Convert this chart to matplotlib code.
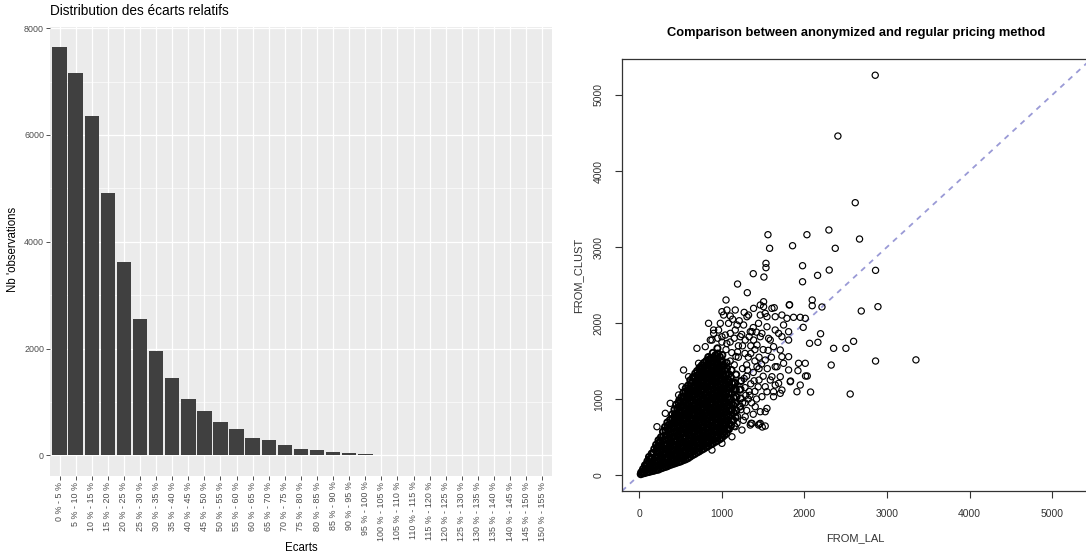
import matplotlib.pyplot as plt
import numpy as np

plt.rcParams['font.family'] = ['Liberation Sans', 'DejaVu Sans']

# ---- left panel: distribution of relative gaps ----
ecart_labels = ['%d %% - %d %%' % (i, i + 5) for i in range(0, 155, 5)]
nb_obs = [7640, 7170, 6360, 4910, 3620, 2560, 1960, 1440, 1050, 830,
          630, 486, 330, 280, 187, 125, 93, 69, 50, 31,
          15, 12, 6, 5, 4, 4, 3, 2, 2, 0, 0]
y_ticks_left = [0, 2000, 4000, 6000, 8000]

# ---- right panel: FROM_LAL vs FROM_CLUST ----
# dense core of the cloud
core_pts = [
    (18, 12), (24, 36),
    (66, 27), (74, 78), (69, 128),
    (121, 42), (129, 97), (124, 152), (131, 214), (118, 238),
    (176, 57), (184, 112), (179, 172), (186, 228), (174, 291), (182, 343),
    (231, 72), (239, 127), (228, 188), (236, 243), (242, 307), (230, 362), (237, 424), (233, 458),
    (286, 97), (294, 152), (281, 218), (292, 273), (288, 337), (296, 392), (283, 457), (291, 512), (287, 572),
    (341, 117), (349, 168), (337, 232), (352, 288), (343, 353), (339, 408), (348, 472), (336, 528),
    (351, 592), (344, 648), (340, 692),
    (396, 142), (404, 198), (393, 262), (407, 318), (399, 383), (391, 437), (405, 503), (397, 558),
    (409, 622), (394, 678), (402, 742), (398, 797),
    (451, 162), (459, 213), (448, 277), (462, 333), (454, 398), (446, 452), (458, 517), (450, 573),
    (463, 638), (449, 692), (457, 758), (452, 812), (460, 877), (447, 927),
    (506, 182), (514, 238), (503, 302), (517, 358), (509, 423), (501, 477), (513, 543), (505, 598),
    (518, 662), (502, 718), (511, 783), (507, 838), (515, 902), (500, 957), (512, 1027),
    (561, 207), (569, 258), (558, 322), (572, 378), (564, 443), (556, 497), (568, 563), (560, 618),
    (573, 682), (557, 738), (566, 803), (562, 857), (570, 923), (555, 978), (567, 1043), (559, 1097), (563, 1142),
    (616, 242), (624, 298), (613, 362), (627, 418), (619, 483), (611, 537), (623, 603), (615, 658),
    (628, 722), (612, 778), (621, 843), (617, 897), (625, 963), (610, 1018), (622, 1083), (614, 1137),
    (626, 1203), (618, 1247),
    (671, 277), (679, 328), (668, 392), (682, 448), (674, 513), (666, 567), (678, 633), (670, 688),
    (683, 752), (667, 808), (676, 873), (672, 927), (680, 993), (665, 1048), (677, 1113), (669, 1167),
    (681, 1233), (673, 1287), (678, 1337),
    (726, 312), (734, 368), (723, 432), (737, 488), (729, 553), (721, 607), (733, 673), (725, 728),
    (738, 792), (722, 848), (731, 913), (727, 967), (735, 1033), (720, 1088), (732, 1153), (724, 1207),
    (736, 1273), (728, 1327), (733, 1392), (730, 1412),
    (781, 347), (789, 398), (778, 462), (792, 518), (784, 583), (776, 637), (788, 703), (780, 758),
    (793, 822), (777, 878), (786, 943), (782, 997), (790, 1063), (775, 1118), (787, 1183), (779, 1237),
    (791, 1303), (783, 1357), (788, 1423), (785, 1477),
    (836, 382), (844, 438), (833, 502), (847, 558), (839, 623), (831, 677), (843, 743), (835, 798),
    (848, 862), (832, 918), (841, 983), (837, 1037), (845, 1103), (830, 1158), (842, 1223), (834, 1277),
    (846, 1343), (838, 1397), (843, 1463), (840, 1517), (836, 1552),
    (891, 417), (899, 468), (888, 532), (902, 588), (894, 653), (886, 707), (898, 773), (890, 828),
    (903, 892), (887, 948), (896, 1013), (892, 1067), (900, 1133), (885, 1188), (897, 1253), (889, 1307),
    (901, 1373), (893, 1427), (898, 1493), (895, 1547), (891, 1607),
    (946, 452), (954, 508), (943, 572), (957, 628), (949, 693), (941, 747), (953, 813), (945, 868),
    (958, 932), (942, 988), (951, 1053), (947, 1107), (955, 1173), (940, 1228), (952, 1293), (944, 1347),
    (956, 1413), (948, 1468), (953, 1533), (950, 1598), (946, 1667),
    (1001, 492), (1009, 543), (998, 607), (1012, 663), (1004, 728), (996, 782), (1008, 848), (1000, 903),
    (1013, 967), (997, 1023), (1006, 1088), (1002, 1142), (1010, 1208), (995, 1263), (1007, 1328),
    (999, 1382), (1011, 1448), (1003, 1502), (1005, 1578),
    (1056, 547), (1064, 598), (1053, 662), (1067, 718), (1059, 783), (1051, 837), (1063, 903), (1055, 958),
    (1068, 1022), (1052, 1078), (1061, 1143), (1057, 1197), (1065, 1263), (1050, 1318), (1062, 1403), (1058, 1477),
    (1111, 652), (1119, 718), (1108, 792), (1122, 858), (1114, 933), (1106, 997), (1118, 1073), (1110, 1138),
    (1123, 1212), (1107, 1288), (1116, 1382),
    (1166, 762), (1174, 848), (1163, 942), (1177, 1028), (1169, 1123), (1161, 1207), (1173, 1322),
    (1221, 902), (1229, 1008), (1218, 1122), (1232, 1238),
]

# more core points, lying between the first ones
core_pts_b = [
    (44, 22), (51, 48), (46, 79),
    (95, 37), (101, 88), (93, 148), (99, 183),
    (150, 52), (156, 103), (148, 167), (154, 223), (151, 283),
    (205, 67), (211, 123), (203, 187), (209, 243), (206, 307), (212, 363), (204, 398),
    (260, 87), (266, 138), (258, 202), (264, 258), (261, 322), (267, 378), (259, 442), (263, 498),
    (315, 107), (321, 163), (313, 227), (319, 283), (316, 347), (322, 403), (314, 467), (320, 523),
    (317, 587), (312, 633),
    (370, 132), (376, 188), (368, 252), (374, 308), (371, 372), (377, 428), (369, 492), (375, 548),
    (372, 612), (367, 668), (373, 728),
    (425, 152), (431, 203), (423, 267), (429, 323), (426, 387), (432, 443), (424, 507), (430, 563),
    (427, 627), (422, 683), (428, 747), (433, 803), (426, 862),
    (480, 172), (486, 228), (478, 292), (484, 348), (481, 412), (487, 468), (479, 532), (485, 588),
    (482, 652), (477, 708), (483, 772), (488, 828), (481, 892), (476, 948), (484, 983),
    (535, 197), (541, 248), (533, 312), (539, 368), (536, 432), (542, 488), (534, 552), (540, 608),
    (537, 672), (532, 728), (538, 792), (543, 848), (536, 912), (531, 968), (539, 1032), (534, 1083),
    (590, 222), (596, 278), (588, 342), (594, 398), (591, 462), (597, 518), (589, 582), (595, 638),
    (592, 702), (587, 758), (593, 822), (598, 878), (591, 942), (586, 998), (594, 1062), (589, 1118),
    (592, 1178),
    (645, 262), (651, 318), (643, 382), (649, 438), (646, 502), (652, 558), (644, 622), (650, 678),
    (647, 742), (642, 798), (648, 862), (653, 918), (646, 982), (641, 1038), (649, 1102), (644, 1158),
    (647, 1222), (650, 1288),
    (700, 297), (706, 353), (698, 417), (704, 473), (701, 537), (707, 593), (699, 657), (705, 713),
    (702, 777), (697, 833), (703, 897), (708, 953), (701, 1017), (696, 1073), (704, 1137), (699, 1193),
    (702, 1257), (706, 1313), (700, 1368),
    (755, 332), (761, 388), (753, 452), (759, 508), (756, 572), (762, 628), (754, 692), (760, 748),
    (757, 812), (752, 868), (758, 932), (763, 988), (756, 1052), (751, 1108), (759, 1172), (754, 1228),
    (757, 1292), (761, 1348), (755, 1408), (758, 1443),
    (810, 367), (816, 423), (808, 487), (814, 543), (811, 607), (817, 663), (809, 727), (815, 783),
    (812, 847), (807, 903), (813, 967), (818, 1023), (811, 1087), (806, 1143), (814, 1207), (809, 1263),
    (812, 1327), (816, 1383), (810, 1447), (813, 1503),
    (865, 402), (871, 458), (863, 522), (869, 578), (866, 642), (872, 698), (864, 762), (870, 818),
    (867, 882), (862, 938), (868, 1002), (873, 1058), (866, 1122), (861, 1178), (869, 1242), (864, 1298),
    (867, 1362), (871, 1418), (865, 1482), (868, 1538),
    (920, 437), (926, 493), (918, 557), (924, 613), (921, 677), (927, 733), (919, 797), (925, 853),
    (922, 917), (917, 973), (923, 1037), (928, 1093), (921, 1157), (916, 1213), (924, 1277), (919, 1333),
    (922, 1397), (926, 1453), (920, 1517), (923, 1578),
    (975, 472), (981, 528), (973, 592), (979, 648), (976, 712), (982, 768), (974, 832), (980, 888),
    (977, 952), (972, 1008), (978, 1072), (983, 1128), (976, 1192), (971, 1248), (979, 1312), (974, 1368),
    (977, 1432), (981, 1498), (975, 1558),
    (1030, 522), (1036, 578), (1028, 642), (1034, 698), (1031, 762), (1037, 818), (1029, 882), (1035, 938),
    (1032, 1002), (1027, 1058), (1033, 1122), (1038, 1178), (1031, 1242), (1026, 1298), (1034, 1372),
    (1029, 1438),
    (1085, 602), (1091, 678), (1083, 762), (1089, 838), (1086, 922), (1092, 998), (1084, 1082), (1090, 1158),
    (1087, 1242), (1082, 1328),
    (1140, 722), (1146, 818), (1138, 922), (1144, 1018), (1141, 1122), (1147, 1218),
]

# looser points around the core
fringe_pts = [
    (1021, 2105), (1162, 2171), (1081, 1996), (960, 1908), (880, 1776), (1041, 1842), (1162, 1908),
    (1263, 1974), (1323, 2105), (1384, 2193), (1465, 2237), (1525, 2127), (1606, 2193), (1646, 2083),
    (1444, 1996), (1364, 1886), (1283, 1776), (1485, 1864), (1566, 1798), (1425, 1711), (1626, 1689),
    (1687, 1864), (1727, 1557), (1646, 1425), (1525, 1513), (1425, 1425), (1606, 1294), (1687, 1206),
    (1525, 1162), (1626, 1031), (1485, 1031), (1404, 899), (1525, 833), (1465, 680), (1364, 680),
    (1283, 767), (1162, 636),
    (375, 943), (698, 1667), (860, 1776), (1001, 2149), (718, 1470), (597, 1294), (517, 1162),
    (476, 1053), (315, 812), (214, 636), (536, 1382), (799, 1689), (900, 1908), (839, 1996),
    (1122, 504), (1001, 417), (880, 329), (1243, 592), (1183, 680), (1344, 658),
    (1050, 2303), (1505, 2280), (1505, 2215), (1634, 2201), (1816, 2237), (2094, 2303), (2094, 2228),
    (1061, 2171), (1102, 2092), (1465, 2105), (1546, 2083), (1727, 2105), (1788, 2062), (1868, 2075),
    (1949, 2075), (2010, 2062), (1304, 2083), (981, 1996), (1183, 1974), (1344, 1886), (1546, 1951),
    (1646, 1908), (1747, 1974), (1808, 1886), (900, 1864), (1001, 1820), (1102, 1864), (1223, 1820),
    (1384, 1776), (1465, 1820), (1586, 1776), (1727, 1820), (1808, 1776), (1707, 1645), (1808, 1557),
    (1747, 1470), (1667, 1425), (1808, 1382), (1707, 1294), (1646, 1184), (1586, 1250), (1727, 1118),
    (1909, 1096), (1949, 1184), (1921, 1373), (2013, 1303), (1828, 1228), (1707, 1075), (1626, 1096),
    (1546, 1096), (1546, 877), (1465, 833), (1525, 645), (1444, 658), (1352, 680), (1150, 645),
    (1100, 1500), (1150, 1450), (1200, 1550), (1250, 1400), (1300, 1300), (1280, 1150), (1320, 1000),
    (1250, 950), (1300, 850), (1200, 1700), (1100, 1750), (1050, 1650), (1000, 1750), (950, 1800),
    (1150, 1800), (1250, 1700), (1350, 1600), (1400, 1500), (1380, 1350), (1450, 1250), (1400, 1100),
    (1350, 1200), (1300, 1450), (1450, 1400), (1500, 1300), (1550, 1400), (1600, 1550), (1500, 1650),
    (1450, 1550), (1350, 1700), (1280, 1600), (1170, 1560), (1320, 1550), (1400, 1650), (1290, 1050),
    (1360, 950), (1420, 1000), (1380, 800), (1260, 720), (1330, 1100),
    (1270, 1270), (1230, 1130), (1310, 1380), (1190, 1620), (1120, 1610), (1060, 1730), (1240, 1850),
    (1330, 1820), (1420, 1880), (1380, 1940), (1210, 2030), (1130, 2050), (1270, 2140), (1560, 1640),
    (1480, 1460), (1390, 1240), (1440, 1160), (1340, 1050), (1230, 860), (1280, 950), (1190, 770),
]

# isolated points
outlier_pts = [
    (2857, 5260), (2405, 4460), (2615, 3583), (2296, 3224), (2030, 3162), (1558, 3162), (1578, 2983),
    (1856, 3017), (2373, 2983), (2667, 3105), (1534, 2785), (1534, 2728), (1977, 2754), (2300, 2697),
    (2861, 2693), (1380, 2649), (1509, 2605), (2159, 2627), (1977, 2543), (1190, 2513), (1308, 2399),
    (2890, 2215), (2688, 2158), (2212, 2211), (1820, 2241), (1985, 1943), (2195, 1859), (2062, 1733),
    (2163, 1746), (2353, 1667), (2502, 1667), (2595, 1759), (2861, 1500), (3350, 1515), (2324, 1447),
    (1929, 1470), (2010, 1470), (2034, 1303), (1832, 1237), (2074, 1092), (2554, 1066), (1453, 671),
    (1489, 632),
]
xy_ticks_right = [0, 1000, 2000, 3000, 4000, 5000]

fig = plt.figure(figsize=(10.86, 5.56), dpi=100)

# ---------- left: ggplot-like bar chart ----------
ax1 = fig.add_axes([0.0460, 0.1444, 0.4622, 0.8070])
ax1.set_facecolor('#EBEBEB')
x = np.arange(len(ecart_labels))
ax1.set_axisbelow(True)
ax1.bar(x, nb_obs, width=0.9, color='#404040', zorder=3)
ax1.set_xlim(-0.6, len(ecart_labels) - 0.4)
ax1.set_ylim(-382, 8022)
ax1.set_yticks(y_ticks_left)
ax1.set_yticks([1000, 3000, 5000, 7000], minor=True)
ax1.set_xticks(x)
ax1.set_xticklabels(ecart_labels, rotation=90, va='top', ha='center')
ax1.grid(which='major', color='white', linewidth=0.9)
ax1.grid(which='minor', axis='y', color='white', linewidth=0.45)
for s in ax1.spines.values():
    s.set_visible(False)
ax1.tick_params(axis='both', which='major', length=3, width=0.6, color='#333333',
                labelsize=6.4, labelcolor='#4D4D4D', pad=1.2)
ax1.tick_params(axis='y', which='minor', length=0)

fig.text(0.046, 0.980, 'Distribution des écarts relatifs', fontsize=9.8,
         ha='left', va='center', color='black')
fig.text(0.277, 0.0144, 'Ecarts', fontsize=8.3, ha='center', va='center')
fig.text(0.012, 0.552, "Nb 'observations", fontsize=8.3, ha='center', va='center',
         rotation=90)

# ---------- right: base-R-like scatter ----------
ax2 = fig.add_axes([0.5727, 0.1169, 0.4319, 0.7765])
ax2.axline((0, 0), slope=1, color='#9a9ad6', linestyle=(0, (3, 3)), linewidth=1.3, zorder=1)
core = np.array(core_pts + core_pts_b, dtype=float)
ax2.scatter(core[:, 0], core[:, 1], s=20, facecolors='none', edgecolors='black',
            linewidths=1.4, zorder=2)
loose = np.array(fringe_pts + outlier_pts, dtype=float)
ax2.scatter(loose[:, 0], loose[:, 1], s=20, facecolors='none', edgecolors='black',
            linewidths=0.85, zorder=2)
ax2.set_xlim(-210, 5470)
ax2.set_ylim(-210, 5470)
ax2.set_xticks(xy_ticks_right)
ax2.set_yticks(xy_ticks_right)
ax2.tick_params(axis='both', length=5, width=0.8, color='#333333', labelsize=7.5,
                labelcolor='#333333', pad=8)
for lab in ax2.get_yticklabels():
    lab.set_rotation(90)
    lab.set_va('center')
for s in ax2.spines.values():
    s.set_color('#333333')
    s.set_linewidth(0.9)

fig.text(0.7887, 0.9406, 'Comparison between anonymized and regular pricing method',
         fontsize=9.3, fontweight='bold', ha='center', va='center')
fig.text(0.788, 0.0324, 'FROM_LAL', fontsize=8, ha='center', va='center', color='#333333')
fig.text(0.5322, 0.5054, 'FROM_CLUST', fontsize=8, ha='center', va='center',
         rotation=90, color='#333333')

fig.savefig('out.png', dpi=100)
